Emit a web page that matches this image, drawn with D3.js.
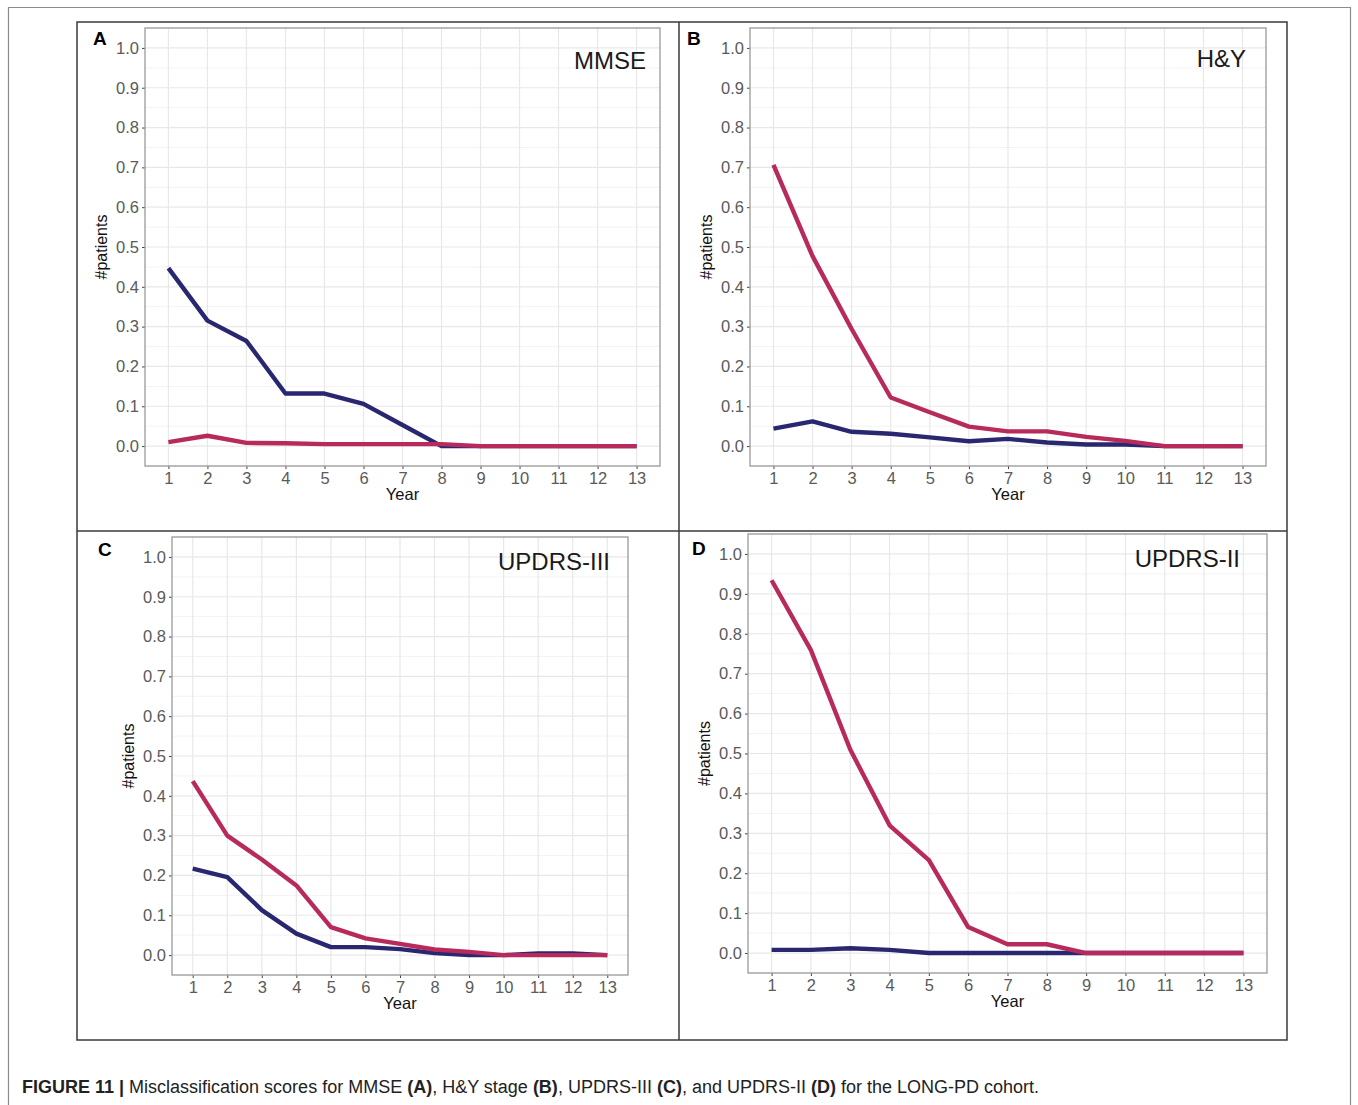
<!DOCTYPE html>
<html lang="en">
<head>
<meta charset="utf-8" />
<title>Figure 11 Misclassification scores</title>
<script src="https://d3js.org/d3.v7.min.js"></script>
<style>
    body { margin: 0; background: #fff; }
    svg { display: block; font-family: "Liberation Sans", Arial, sans-serif; }
</style>
</head>
<body>
<script>
// ---- data ----
var years = [1, 2, 3, 4, 5, 6, 7, 8, 9, 10, 11, 12, 13];
var yTicks = [0, 0.1, 0.2, 0.3, 0.4, 0.5, 0.6, 0.7, 0.8, 0.9, 1.0];
var yMinor = [-0.05, 0.05, 0.15, 0.25, 0.35, 0.45, 0.55, 0.65, 0.75, 0.85, 0.95, 1.05];
var panelLetters = ["A", "B", "C", "D"];
var panelTitles = ["MMSE", "H&Y", "UPDRS-III", "UPDRS-II"];

var mmseBlue = [0.447, 0.315, 0.264, 0.132, 0.132, 0.106, 0.053, 0, 0, 0, 0, 0, 0];
var mmseRed  = [0.010, 0.026, 0.008, 0.007, 0.005, 0.005, 0.005, 0.005, 0, 0, 0, 0, 0];
var hyBlue   = [0.044, 0.062, 0.036, 0.031, 0.022, 0.012, 0.018, 0.009, 0.004, 0.004, 0, 0, 0];
var hyRed    = [0.706, 0.477, 0.294, 0.122, 0.085, 0.049, 0.037, 0.037, 0.023, 0.013, 0, 0, 0];
var up3Blue  = [0.217, 0.196, 0.113, 0.054, 0.020, 0.020, 0.015, 0.005, 0, 0, 0.004, 0.004, 0];
var up3Red   = [0.437, 0.300, 0.240, 0.175, 0.070, 0.042, 0.028, 0.014, 0.008, 0, 0, 0, 0];
var up2Blue  = [0.008, 0.008, 0.012, 0.008, 0, 0, 0, 0, 0, 0, 0, 0, 0];
var up2Red   = [0.934, 0.759, 0.510, 0.320, 0.233, 0.065, 0.022, 0.022, 0, 0, 0, 0, 0];

var blueSeries = [mmseBlue, hyBlue, up3Blue, up2Blue];
var redSeries = [mmseRed, hyRed, up3Red, up2Red];

var blueColor = "#28276f";
var redColor = "#b82a5c";

// plot area boxes (left, right, top, bottom) for each panel
var boxes = [
    { l: 145, r: 660, t: 28, b: 466 },
    { l: 750, r: 1266, t: 28, b: 466 },
    { l: 172, r: 628, t: 537, b: 975 },
    { l: 748, r: 1267, t: 534, b: 973 }
];
var letterPos = [[93, 45], [687, 45], [98, 556], [692, 555]];
var titlePos = [[646, 69], [1246, 67], [610, 570], [1240, 567]];

var w = 1358, h = 1105;

var svg = d3.select("body").append("svg")
    .attr("width", w)
    .attr("height", h);

// outer page border and figure frame
svg.append("path")
    .attr("d", "M8.5," + h + " V7.5 H1350.5 V" + h)
    .attr("fill", "none")
    .attr("stroke", "#8c8c8c")
    .attr("stroke-width", 1.2);

svg.append("rect")
    .attr("x", 77).attr("y", 22)
    .attr("width", 1210).attr("height", 1018)
    .attr("fill", "none")
    .attr("stroke", "#3a3a3a")
    .attr("stroke-width", 1.5);
svg.append("line")
    .attr("x1", 679).attr("x2", 679).attr("y1", 22).attr("y2", 1040)
    .attr("stroke", "#3a3a3a").attr("stroke-width", 1.5);
svg.append("line")
    .attr("x1", 77).attr("x2", 1287).attr("y1", 531).attr("y2", 531)
    .attr("stroke", "#3a3a3a").attr("stroke-width", 1.5);

boxes.forEach(function (bx, i) {
    var g = svg.append("g");

    var x = d3.scaleLinear().domain([0.4, 13.6]).range([bx.l, bx.r]);
    var y = d3.scaleLinear().domain([-0.05, 1.05]).range([bx.b, bx.t]);

    // minor grid
    g.selectAll(".minor")
        .data(yMinor)
        .enter().append("line")
        .attr("x1", bx.l).attr("x2", bx.r)
        .attr("y1", function (d) { return y(d); })
        .attr("y2", function (d) { return y(d); })
        .attr("stroke", "#f3f3f3")
        .attr("stroke-width", 1);

    // major grid
    g.selectAll(".hmajor")
        .data(yTicks)
        .enter().append("line")
        .attr("x1", bx.l).attr("x2", bx.r)
        .attr("y1", function (d) { return y(d); })
        .attr("y2", function (d) { return y(d); })
        .attr("stroke", "#e8e8e8")
        .attr("stroke-width", 1.2);
    g.selectAll(".vmajor")
        .data(years)
        .enter().append("line")
        .attr("y1", bx.t).attr("y2", bx.b)
        .attr("x1", function (d) { return x(d); })
        .attr("x2", function (d) { return x(d); })
        .attr("stroke", "#e8e8e8")
        .attr("stroke-width", 1.2);

    // axes
    var yAxis = d3.axisLeft(y).tickValues(yTicks).tickSize(3).tickPadding(3)
        .tickFormat(d3.format(".1f"));
    var xAxis = d3.axisBottom(x).tickValues(years).tickSize(3).tickPadding(3);

    var ya = g.append("g").attr("transform", "translate(" + bx.l + ",0)").call(yAxis);
    var xa = g.append("g").attr("transform", "translate(0," + bx.b + ")").call(xAxis);
    [ya, xa].forEach(function (a) {
        a.attr("font-size", null).attr("font-family", null);
        a.select(".domain").remove();
        a.selectAll("line").attr("stroke", "#444");
        a.selectAll("text")
            .attr("fill", "#5a5a5a")
            .style("font-size", "16.5px");
    });

    // panel border
    g.append("rect")
        .attr("x", bx.l).attr("y", bx.t)
        .attr("width", bx.r - bx.l).attr("height", bx.b - bx.t)
        .attr("fill", "none")
        .attr("stroke", "#9a9a9a")
        .attr("stroke-width", 1.3);

    // lines
    var line = d3.line()
        .x(function (d, k) { return x(years[k]); })
        .y(function (d) { return y(d); });

    g.append("path")
        .datum(blueSeries[i])
        .attr("d", line)
        .attr("fill", "none")
        .attr("stroke", blueColor)
        .attr("stroke-width", 4.4)
        .attr("stroke-linejoin", "round");
    g.append("path")
        .datum(redSeries[i])
        .attr("d", line)
        .attr("fill", "none")
        .attr("stroke", redColor)
        .attr("stroke-width", 4.4)
        .attr("stroke-linejoin", "round");

    // axis titles
    g.append("text")
        .text("Year")
        .attr("x", (bx.l + bx.r) / 2)
        .attr("y", bx.b + 34)
        .attr("text-anchor", "middle")
        .style("font-size", "16.5px")
        .attr("fill", "#111");
    g.append("text")
        .text("#patients")
        .attr("transform", "translate(" + (bx.l - 38) + "," + ((bx.t + bx.b) / 2) + ") rotate(-90)")
        .attr("text-anchor", "middle")
        .style("font-size", "16px")
        .attr("fill", "#111");

    // panel letter and title
    g.append("text")
        .text(panelLetters[i])
        .attr("x", letterPos[i][0])
        .attr("y", letterPos[i][1])
        .style("font-size", "19px")
        .attr("font-weight", "bold")
        .attr("fill", "#000");
    g.append("text")
        .text(panelTitles[i])
        .attr("x", titlePos[i][0])
        .attr("y", titlePos[i][1])
        .attr("text-anchor", "end")
        .style("font-size", "24px")
        .attr("fill", "#1a1a1a");
});

// caption
var cap = svg.append("text")
    .attr("x", 22)
    .attr("y", 1093)
    .style("font-size", "18px")
    .attr("fill", "#222");
var capParts = [
    ["FIGURE 11 | ", true], ["Misclassification scores for MMSE ", false], ["(A)", true],
    [", H&Y stage ", false], ["(B)", true], [", UPDRS-III ", false], ["(C)", true],
    [", and UPDRS-II ", false], ["(D)", true], [" for the LONG-PD cohort.", false]
];
capParts.forEach(function (p) {
    cap.append("tspan")
        .text(p[0])
        .attr("font-weight", p[1] ? "bold" : "normal");
});
</script>
</body>
</html>
